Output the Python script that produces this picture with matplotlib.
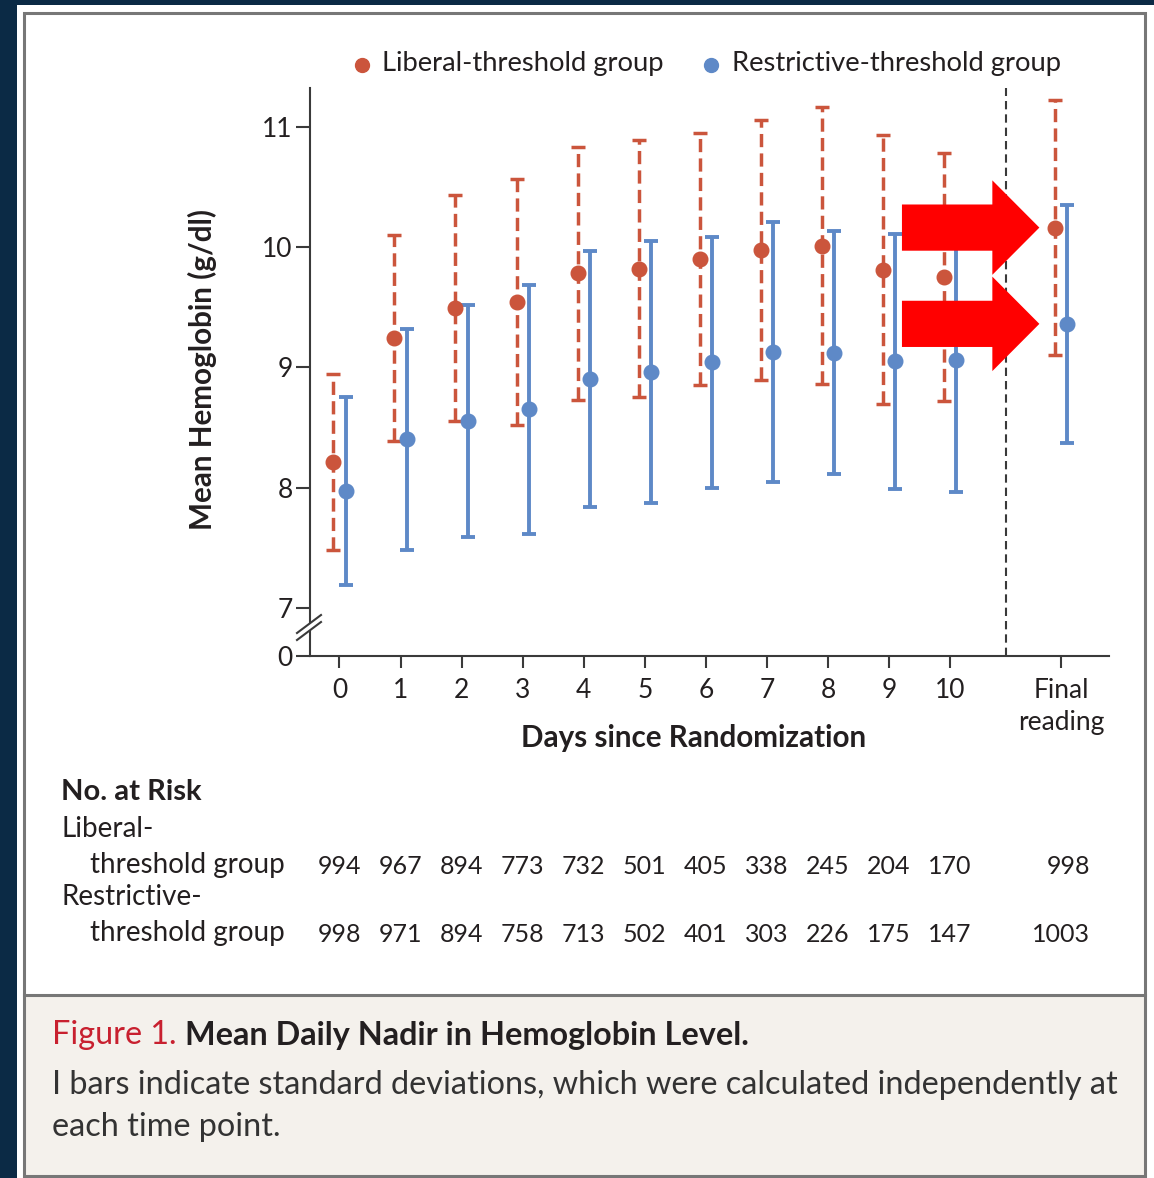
import numpy as np
import matplotlib
matplotlib.use("Agg")
import matplotlib.pyplot as plt
from matplotlib.patches import Rectangle, FancyArrow, Polygon
from matplotlib.lines import Line2D
from matplotlib.transforms import blended_transform_factory

# canvas size in pixels
W, H = 1154, 1178

plt.rcParams['font.family'] = ['Lato', 'DejaVu Sans']
plt.rcParams['lines.scale_dashes'] = False

# time points: days 0-10 plus the final reading
days = list(range(11))
final_x = 11.82
x_labels = [str(d) for d in days] + ['Final\nreading']

# mean daily nadir hemoglobin (g/dl) and SD
lib_mean = [8.21, 9.24, 9.49, 9.54, 9.78, 9.82, 9.90, 9.97, 10.01, 9.81, 9.75, 10.16]
lib_sd = [0.73, 0.855, 0.94, 1.02, 1.05, 1.065, 1.05, 1.08, 1.15, 1.12, 1.03, 1.06]
res_mean = [7.97, 8.40, 8.55, 8.65, 8.90, 8.96, 9.04, 9.13, 9.12, 9.05, 9.06, 9.36]
res_sd = [0.78, 0.92, 0.965, 1.035, 1.065, 1.085, 1.045, 1.08, 1.01, 1.06, 1.10, 0.99]

# number at risk
lib_risk = [994, 967, 894, 773, 732, 501, 405, 338, 245, 204, 170, 998]
res_risk = [998, 971, 894, 758, 713, 502, 401, 303, 226, 175, 147, 1003]

red = '#cb553c'
blue = '#5e89c7'
ink = '#231f20'
axis_col = '#3a3a3a'
frame_col = '#777777'


def fx(px):
    return px / W


def fy(py):
    return 1 - py / H


fig = plt.figure(figsize=(W / 100, H / 100), dpi=100, facecolor='#0b2a45')

# white page, caption box and grey frame (behind the axes)
fig.patches.append(Rectangle((fx(17), 0), 1 - fx(17), fy(5), transform=fig.transFigure,
                             facecolor='white', edgecolor='none', zorder=-3))
fig.patches.append(Rectangle((fx(24), fy(1176)), fx(1145) - fx(24), fy(996) - fy(1176),
                             transform=fig.transFigure, facecolor='#f4f1ec', edgecolor='none', zorder=-2))
fig.patches.append(Rectangle((fx(24), fy(1176)), fx(1145) - fx(24), fy(13) - fy(1176),
                             transform=fig.transFigure, fill=False, edgecolor=frame_col,
                             linewidth=2.2, zorder=-1))
fig.add_artist(Line2D([fx(24), fx(1145)], [fy(995), fy(995)], transform=fig.transFigure,
                      color=frame_col, lw=2.2, zorder=-1))

ax = fig.add_axes([fx(309.5), fy(656), fx(1109) - fx(309.5), fy(88) - fy(656)])
ax.set_facecolor('none')

x_pos = np.array(days + [final_x], dtype=float)
off = 0.1

lib = ax.errorbar(x_pos - off, lib_mean, yerr=lib_sd, fmt='o', color=red, ms=10.5,
                  elinewidth=2.5, capsize=5, capthick=2.5, zorder=3)
lib[2][0].set_linestyle((0, (9.5, 4.5)))
ax.errorbar(x_pos + off, res_mean, yerr=res_sd, fmt='o', color=blue, ms=10.5,
            elinewidth=2.8, capsize=5, capthick=2.8, zorder=3)

# separator before the final reading
ax.axvline((days[-1] + final_x) / 2, color=axis_col, lw=1.5, ls=(0, (6, 3.6)), zorder=2)

# arrows pointing at the final readings
for y in (lib_mean[-1], res_mean[-1]):
    tip = final_x - 0.36
    tail = final_x - 2.61
    ax.add_patch(FancyArrow(tail, y, tip - tail, 0, width=0.384, head_width=0.785,
                            head_length=0.77, length_includes_head=True,
                            facecolor='#ff0000', edgecolor='none', zorder=6))

ax.set_xlim(-0.49, 12.6)
ax.set_ylim(6.6, 11.32)
ax.set_xticks(x_pos)
ax.set_xticklabels(x_labels, fontsize=19, color=ink, linespacing=1.35)
ax.set_yticks([6.6, 7, 8, 9, 10, 11])
ax.set_yticklabels(['0', '7', '8', '9', '10', '11'], fontsize=19, color=ink)

for side in ('top', 'right'):
    ax.spines[side].set_visible(False)
for side in ('left', 'bottom'):
    ax.spines[side].set_color(axis_col)
    ax.spines[side].set_linewidth(1.5)
ax.tick_params(axis='y', length=10, width=1.5, color=axis_col, pad=2)
ax.tick_params(axis='x', length=8.5, width=1.5, color=axis_col, pad=7)

# axis break marks
bx0, bx1 = (297 - 309.5) / (1109 - 309.5), (321 - 309.5) / (1109 - 309.5)
by = lambda py: (656 - py) / (656 - 88)
ax.add_patch(Polygon([(bx0, by(633)), (bx1, by(615)), (bx1, by(622)), (bx0, by(640))],
                     closed=True, transform=ax.transAxes, facecolor='white',
                     edgecolor='none', clip_on=False, zorder=4))
for y0, y1 in ((633, 615), (640, 622)):
    ax.add_line(Line2D([bx0, bx1], [by(y0), by(y1)], transform=ax.transAxes,
                       color=axis_col, lw=1.5, clip_on=False, zorder=5))

# axis titles
fig.text(fx(202), fy(370), 'Mean Hemoglobin (g/dl)', rotation=90, ha='center', va='center',
         fontsize=21.3, fontweight='bold', color=ink)
fig.text(fx(694), fy(738), 'Days since Randomization', ha='center', va='center',
         fontsize=21.3, fontweight='bold', color=ink)

# legend
for (mx, tx), label, col in (((362, 382), 'Liberal-threshold group', red),
                             ((711, 732), 'Restrictive-threshold group', blue)):
    fig.add_artist(Line2D([fx(mx)], [fy(65)], transform=fig.transFigure, marker='o',
                          ms=10, color=col, lw=0))
    fig.text(fx(tx), fy(64), label, ha='left', va='center', fontsize=19.7, color=ink)

# number at risk table
fig.text(fx(61), fy(792), 'No. at Risk', ha='left', va='center', fontsize=21,
         fontweight='bold', color=ink)
fig.text(fx(61), fy(829), 'Liberal-', ha='left', va='center', fontsize=20, color=ink)
fig.text(fx(90), fy(865), 'threshold group', ha='left', va='center', fontsize=20, color=ink)
fig.text(fx(61), fy(897), 'Restrictive-', ha='left', va='center', fontsize=20, color=ink)
fig.text(fx(90), fy(933), 'threshold group', ha='left', va='center', fontsize=20, color=ink)

trans = blended_transform_factory(ax.transData, fig.transFigure)
for row_y, counts in ((866, lib_risk), (934, res_risk)):
    for d, n in zip(days, counts[:-1]):
        ax.text(d, fy(row_y), str(n), transform=trans, ha='center', va='center',
                fontsize=18, color=ink)
    ax.text(final_x + 0.47, fy(row_y), str(counts[-1]), transform=trans, ha='right',
            va='center', fontsize=18, color=ink)

# caption
t1 = fig.text(fx(52), fy(1035), 'Figure 1. ', ha='left', va='center', fontsize=23.3,
              color='#c8202f')
fig.canvas.draw()
bb = t1.get_window_extent()
fig.text(bb.x1 / W, fy(1035), 'Mean Daily Nadir in Hemoglobin Level.', ha='left', va='center',
         fontsize=23.3, fontweight='bold', color=ink)
fig.text(fx(52), fy(1085), 'I bars indicate standard deviations, which were calculated independently at',
         ha='left', va='center', fontsize=23.3, color='#333333')
fig.text(fx(52), fy(1127), 'each time point.', ha='left', va='center', fontsize=23.3,
         color='#333333')

fig.savefig('out.png', dpi=100, facecolor=fig.get_facecolor())
